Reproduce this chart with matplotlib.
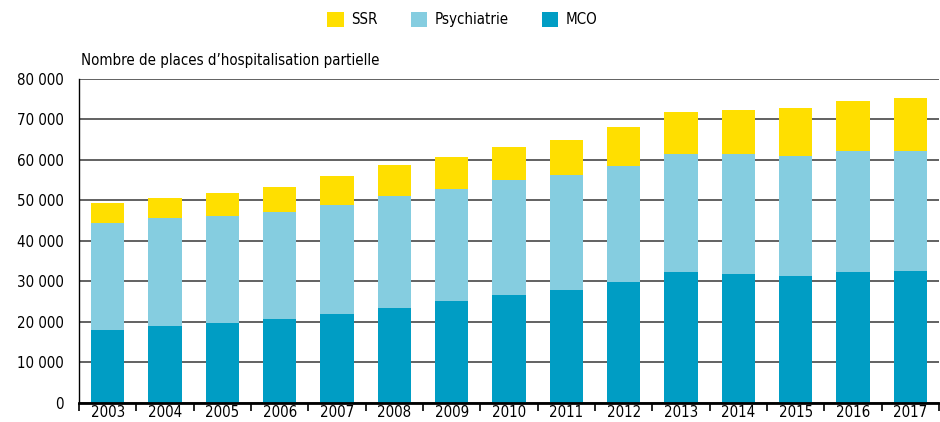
import matplotlib
matplotlib.use('Agg')
import matplotlib.pyplot as plt
import numpy as np
from matplotlib.patches import Patch
from matplotlib.ticker import FuncFormatter, FixedLocator

plt.rcParams['font.family'] = ['DejaVu Sans']
plt.rcParams['font.stretch'] = 'condensed'

annees = ['2003', '2004', '2005', '2006', '2007', '2008', '2009', '2010',
          '2011', '2012', '2013', '2014', '2015', '2016', '2017']
mco = [17900, 18900, 19600, 20600, 21800, 23500, 25000, 26500,
       27900, 29700, 32400, 31900, 31400, 32400, 32600]
psychiatrie = [26600, 26600, 26500, 26500, 27100, 27500, 27700, 28500,
               28300, 28700, 29000, 29500, 29500, 29800, 29700]
ssr = [4800, 5000, 5700, 6100, 7000, 7600, 7900, 8100,
       8800, 9600, 10500, 11000, 11800, 12400, 13100]

c_ssr = '#FFDF00'
c_psy = '#85CDE0'
c_mco = '#009DC4'
fs = 10.8

fig = plt.figure(figsize=(9.4, 4.22), dpi=100)
ax = fig.add_axes([0.084, 0.046, 0.915, 0.767])

x = np.arange(len(annees))
w = 0.58
mco_a = np.array(mco)
psy_a = np.array(psychiatrie)
ax.bar(x, mco_a, w, color=c_mco, zorder=3)
ax.bar(x, psy_a, w, bottom=mco_a, color=c_psy, zorder=3)
ax.bar(x, ssr, w, bottom=mco_a + psy_a, color=c_ssr, zorder=3)

ax.set_xlim(-0.5, len(annees) - 0.5)
ax.set_ylim(0, 80000)
ax.set_yticks(np.arange(0, 80001, 10000))
ax.yaxis.set_major_formatter(FuncFormatter(lambda v, p: f'{int(v):,}'.replace(',', ' ')))
ax.grid(axis='y', color='#555555', linewidth=1.3, zorder=1)
ax.tick_params(axis='y', length=0, labelsize=fs, pad=11)

# graduations entre les barres, libellés centrés
ax.xaxis.set_major_locator(FixedLocator(np.arange(-0.5, len(annees), 1)))
ax.xaxis.set_major_formatter(FuncFormatter(lambda v, p: ''))
ax.xaxis.set_minor_locator(FixedLocator(x))
ax.set_xticklabels(annees, minor=True)
ax.tick_params(axis='x', which='major', length=6, width=1.2, direction='out')
ax.tick_params(axis='x', which='minor', length=0, labelsize=fs, pad=2)

for s in ['top', 'right']:
    ax.spines[s].set_visible(False)
ax.spines['bottom'].set_linewidth(2)
ax.spines['bottom'].set_zorder(4)
ax.spines['left'].set_linewidth(1)

fig.text(0.086, 0.857, 'Nombre de places d\u2019hospitalisation partielle', fontsize=fs,
         ha='left', va='center')

handles = [Patch(facecolor=c_ssr, label='SSR'),
           Patch(facecolor=c_psy, label='Psychiatrie'),
           Patch(facecolor=c_mco, label='MCO')]
fig.legend(handles=handles, loc='center', bbox_to_anchor=(0.492, 0.953), ncol=3,
           frameon=False, fontsize=fs, handlelength=1.1, handleheight=1.1,
           columnspacing=2.2, handletextpad=0.5)

plt.savefig('out.png', dpi=100)
